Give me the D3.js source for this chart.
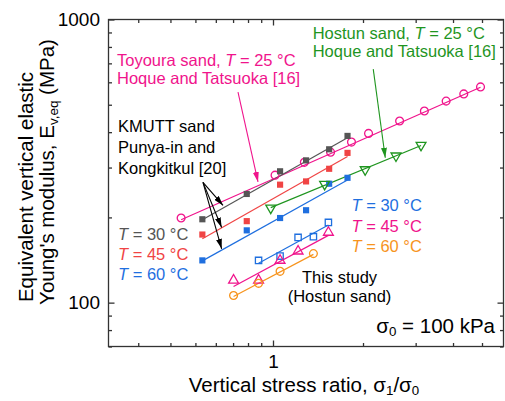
<!DOCTYPE html>
<html><head><meta charset="utf-8">
<script src="https://cdn.jsdelivr.net/npm/d3@7"></script>
<style>
body{margin:0;background:#fff;}
text{font-family:"Liberation Sans",Arial,sans-serif;}
</style></head><body>
<div id="chart"></div>
<script>
// values (sigma1/sigma0, E in MPa)
var kmuttX   = [0.532, 0.791, 1.056, 1.290, 1.541, 1.775];
var kmutt30  = [197, 242, 291, 318, 348, 388];
var kmutt45  = [174, 194, 261, 268, 297, 338];
var kmutt60  = [141, 180, 199, 212, 263, 276];

var toyouraX = [0.440, 1.016, 1.273, 1.558, 1.830, 2.087, 2.651, 3.208, 3.793, 4.345, 4.943];
var toyouraE = [199, 282, 313, 340, 369, 396, 438, 475, 515, 546, 578];

var hostunX  = [0.980, 1.488, 2.034, 2.578, 3.127];
var hostunE  = [216, 262, 295, 330, 360];

var study30X = [0.879, 1.056, 1.213, 1.365, 1.532];
var study30E = [141, 146, 170, 171, 192];
var study45X = [0.703, 0.879, 1.056, 1.213, 1.532];
var study45E = [120, 120, 141, 152, 177];
var study60X = [0.703, 0.879, 1.056, 1.365];
var study60E = [106, 117, 129, 149];

var xMajor = [1];
var xMinor = [0.3, 0.4, 0.5, 0.6, 0.7, 0.8, 0.9, 2, 3, 4, 5];
var yMajor = [100, 1000];
var yMinor = [70, 80, 90, 200, 300, 400, 500, 600, 700, 800, 900];

var gray = "#555555", red = "#f04444", blue = "#1f6fdf",
    pink = "#f0148c", green = "#1f951f", orange = "#f7941d";

var series = [
  {x: toyouraX, y: toyouraE, color: pink,   mark: "circleOpen"},
  {x: kmuttX,   y: kmutt30,  color: gray,   mark: "square"},
  {x: kmuttX,   y: kmutt45,  color: red,    mark: "square"},
  {x: kmuttX,   y: kmutt60,  color: blue,   mark: "square"},
  {x: hostunX,  y: hostunE,  color: green,  mark: "triDown"},
  {x: study30X, y: study30E, color: blue,   mark: "squareOpen"},
  {x: study45X, y: study45E, color: pink,   mark: "triUp"},
  {x: study60X, y: study60E, color: orange, mark: "circleOpen"}
];

var W = 505, H = 401;
var svg = d3.select("#chart").append("svg").attr("width", W).attr("height", H);

var x = d3.scaleLog().domain([0.23, 1, 5.9]).range([108.5, 273, 503.5]);
var y = d3.scaleLog().domain([70, 1000]).range([346.5, 19.5]);

var x0 = 108.5, x1 = 503.5, y0 = 346.5, y1 = 19.5;

function styleAxis(g) {
  g.select(".domain").remove();
  g.selectAll("line").attr("stroke", "#333").attr("stroke-width", 1.3);
  g.selectAll("text").attr("fill", "#000").style("font-size", "19px")
    .style("font-family", '"Liberation Sans",Arial,sans-serif');
}

// minor + major ticks on all four sides, pointing in
svg.append("g").attr("transform", "translate(0," + y0 + ")")
  .call(d3.axisBottom(x).tickValues(xMinor).tickSize(-3.5).tickFormat("")).call(styleAxis);
svg.append("g").attr("transform", "translate(0," + y0 + ")")
  .call(d3.axisBottom(x).tickValues(xMajor).tickSize(-6).tickPadding(8.5).tickFormat(d3.format("d"))).call(styleAxis);
svg.append("g").attr("transform", "translate(0," + y1 + ")")
  .call(d3.axisTop(x).tickValues(xMinor).tickSize(-3.5).tickFormat("")).call(styleAxis);
svg.append("g").attr("transform", "translate(0," + y1 + ")")
  .call(d3.axisTop(x).tickValues(xMajor).tickSize(-6).tickFormat("")).call(styleAxis);

svg.append("g").attr("transform", "translate(" + x0 + ",0)")
  .call(d3.axisLeft(y).tickValues(yMinor).tickSize(-3.5).tickFormat("")).call(styleAxis);
svg.append("g").attr("transform", "translate(" + x0 + ",0)")
  .call(d3.axisLeft(y).tickValues(yMajor).tickSize(-6).tickPadding(8.5).tickFormat(d3.format("d"))).call(styleAxis);
svg.append("g").attr("transform", "translate(" + x1 + ",0)")
  .call(d3.axisRight(y).tickValues(yMinor).tickSize(-3.5).tickFormat("")).call(styleAxis);
svg.append("g").attr("transform", "translate(" + x1 + ",0)")
  .call(d3.axisRight(y).tickValues(yMajor).tickSize(-6).tickFormat("")).call(styleAxis);

svg.append("rect").attr("x", x0).attr("y", y1).attr("width", x1 - x0).attr("height", y0 - y1)
  .attr("fill", "none").attr("stroke", "#333").attr("stroke-width", 1.3);

// straight power-law fit for each series (line in log-log)
function fitLine(xs, ys) {
  var lx = xs.map(Math.log10), ly = ys.map(Math.log10);
  var mx = d3.mean(lx), my = d3.mean(ly);
  var b = d3.sum(lx, (v, i) => (v - mx) * (ly[i] - my)) / d3.sum(lx, v => (v - mx) * (v - mx));
  var a = my - b * mx;
  var xa = d3.min(xs), xb = d3.max(xs);
  return [[xa, Math.pow(10, a + b * Math.log10(xa))], [xb, Math.pow(10, a + b * Math.log10(xb))]];
}

var line = d3.line().x(d => x(d[0])).y(d => y(d[1]));

series.forEach(function(s) {
  svg.append("path").attr("d", line(fitLine(s.x, s.y)))
    .attr("fill", "none").attr("stroke", s.color).attr("stroke-width", 1.2);
});

var symType = {
  square: d3.symbolSquare, squareOpen: d3.symbolSquare, circleOpen: d3.symbolCircle,
  triUp: d3.symbolTriangle, triDown: d3.symbolTriangle
};
var symSize = {square: 38, squareOpen: 40, circleOpen: 48, triUp: 42, triDown: 42};

series.forEach(function(s) {
  var filled = s.mark === "square";
  svg.append("g").selectAll("path")
    .data(s.x.map((v, i) => [v, s.y[i]]))
    .join("path")
    .attr("d", d3.symbol().type(symType[s.mark]).size(symSize[s.mark]))
    .attr("transform", d => "translate(" + x(d[0]) + "," + y(d[1]) + ")" + (s.mark === "triDown" ? " rotate(180)" : ""))
    .attr("fill", filled ? s.color : "none")
    .attr("stroke", s.color)
    .attr("stroke-width", filled ? 0 : 1.3);
});

// arrows
var defs = svg.append("defs");
function marker(id, color) {
  defs.append("marker").attr("id", id).attr("viewBox", "0 0 10 6").attr("refX", 10).attr("refY", 3)
    .attr("markerWidth", 10).attr("markerHeight", 6).attr("markerUnits", "userSpaceOnUse")
    .attr("orient", "auto")
    .append("path").attr("d", "M0,0 L10,3 L0,6 Z").attr("fill", color);
}
marker("ahPink", pink); marker("ahGreen", green); marker("ahBlack", "#000");

function arrow(xa, ya, xb, yb, color, id) {
  svg.append("line").attr("x1", x(xa)).attr("y1", y(ya)).attr("x2", x(xb)).attr("y2", y(yb))
    .attr("stroke", color).attr("stroke-width", 1.1).attr("marker-end", "url(#" + id + ")");
}
arrow(0.7315, 554, 0.8746, 267, pink, "ahPink");
arrow(2.164, 668, 2.374, 325, green, "ahGreen");
arrow(0.535, 266, 0.640, 220.5, "#000", "ahBlack");
arrow(0.535, 266, 0.632, 184.3, "#000", "ahBlack");
arrow(0.535, 266, 0.632, 154.9, "#000", "ahBlack");

// annotations
function label(px, py, parts, color, size, anchor) {
  var t = svg.append("text").attr("x", px).attr("y", py).attr("fill", color)
    .style("font-size", (size || 16.5) + "px").attr("text-anchor", anchor || "start");
  parts.forEach(function(p) {
    var ts = t.append("tspan").text(p.t);
    if (p.i) ts.style("font-style", "italic");
    if (p.sub) ts.attr("baseline-shift", "-25%").style("font-size", (size || 16.5) * 0.65 + "px");
  });
  return t;
}
label(117, 65.7, [{t: "Toyoura sand, "}, {t: "T", i: 1}, {t: " = 25 °C"}], pink);
label(117, 84.3, [{t: "Hoque and Tatsuoka [16]"}], pink);
label(312.7, 39.3, [{t: "Hostun sand, "}, {t: "T", i: 1}, {t: " = 25 °C"}], green);
label(312.7, 57.3, [{t: "Hoque and Tatsuoka [16]"}], green);
label(118, 132.3, [{t: "KMUTT sand"}], "#000");
label(118, 153, [{t: "Punya-in and"}], "#000");
label(118, 174, [{t: "Kongkitkul [20]"}], "#000");

label(118, 240, [{t: "T", i: 1}, {t: " = 30 °C"}], gray);
label(118, 260, [{t: "T", i: 1}, {t: " = 45 °C"}], red);
label(118, 279.5, [{t: "T", i: 1}, {t: " = 60 °C"}], blue);

label(351.5, 210.7, [{t: "T", i: 1}, {t: " = 30 °C"}], blue);
label(351.5, 231.5, [{t: "T", i: 1}, {t: " = 45 °C"}], pink);
label(351.5, 251.7, [{t: "T", i: 1}, {t: " = 60 °C"}], orange);

label(339.5, 283, [{t: "This study"}], "#000", 16.5, "middle");
label(339.5, 302, [{t: "(Hostun sand)"}], "#000", 16.5, "middle");

label(495, 333, [{t: "σ"}, {t: "0", sub: 1}, {t: " = 100 kPa"}], "#000", 20.5, "end");

// axis titles
label(304, 392, [{t: "Vertical stress ratio, σ"}, {t: "1", sub: 1}, {t: "/σ"}, {t: "0", sub: 1}], "#000", 20.5, "middle");

svg.append("g").attr("transform", "translate(33,187) rotate(-90)")
  .append("text").attr("text-anchor", "middle").style("font-size", "20.5px").attr("fill", "#000")
  .text("Equivalent vertical elastic");
var yt = svg.append("g").attr("transform", "translate(54,172) rotate(-90)")
  .append("text").attr("text-anchor", "middle").style("font-size", "20.5px").attr("fill", "#000");
yt.append("tspan").text("Young's modulus, E");
yt.append("tspan").text("v,eq").attr("baseline-shift", "-25%").style("font-size", "13.5px");
yt.append("tspan").text(" (MPa)");
</script>
</body></html>
